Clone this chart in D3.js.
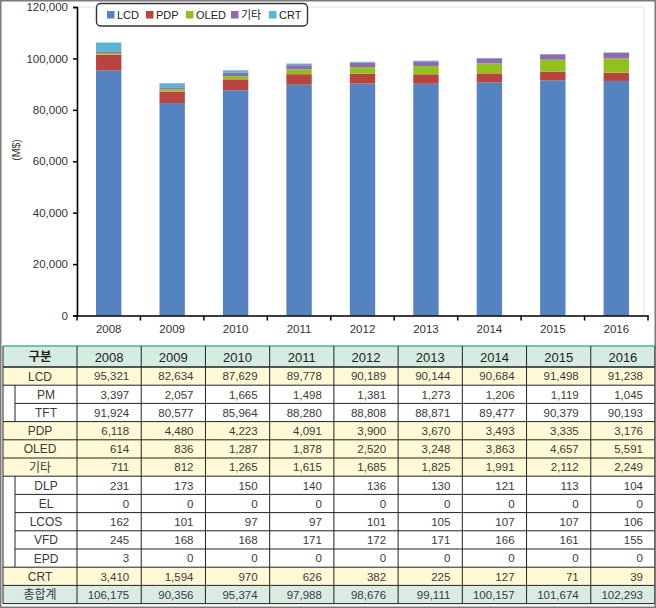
<!DOCTYPE html>
<html><head><meta charset="utf-8">
<script src="https://cdn.jsdelivr.net/npm/d3@7"></script>
<style>
html,body{margin:0;padding:0;background:#fff;}
svg{display:block;}
text{font-family:"Liberation Sans",Arial,"Noto Sans CJK KR",sans-serif;}
</style></head>
<body>
<svg id="c" width="656" height="608"></svg>
<script>
const years = [2008,2009,2010,2011,2012,2013,2014,2015,2016];
const seriesNames = ["LCD","PDP","OLED","기타","CRT"];
const seriesColors = ["#5582C0","#B8433F","#92C01F","#8F6BAF","#58B5D3"];
const LCD  = [95321,82634,87629,89778,90189,90144,90684,91498,91238];
const PM   = [3397,2057,1665,1498,1381,1273,1206,1119,1045];
const TFT  = [91924,80577,85964,88280,88808,88871,89477,90379,90193];
const PDP  = [6118,4480,4223,4091,3900,3670,3493,3335,3176];
const OLED = [614,836,1287,1878,2520,3248,3863,4657,5591];
const ETC  = [711,812,1265,1615,1685,1825,1991,2112,2249];
const DLP  = [231,173,150,140,136,130,121,113,104];
const EL   = [0,0,0,0,0,0,0,0,0];
const LCOS = [162,101,97,97,101,105,107,107,106];
const VFD  = [245,168,168,171,172,171,166,161,155];
const EPD  = [3,0,0,0,0,0,0,0,0];
const CRT  = [3410,1594,970,626,382,225,127,71,39];
const TOTAL= [106175,90356,95374,97988,98676,99111,100157,101674,102293];
const yTicks = [0,20000,40000,60000,80000,100000,120000];
const yLabel = "(M$)";
const tableHeaderLabel = "구분";
const tableRows = [
  {label:"LCD", values:LCD, kind:"main"},
  {label:"PM", values:PM, kind:"sub"},
  {label:"TFT", values:TFT, kind:"sub"},
  {label:"PDP", values:PDP, kind:"main"},
  {label:"OLED", values:OLED, kind:"main"},
  {label:"기타", values:ETC, kind:"main"},
  {label:"DLP", values:DLP, kind:"sub"},
  {label:"EL", values:EL, kind:"sub"},
  {label:"LCOS", values:LCOS, kind:"sub"},
  {label:"VFD", values:VFD, kind:"sub"},
  {label:"EPD", values:EPD, kind:"sub"},
  {label:"CRT", values:CRT, kind:"main"},
  {label:"총합계", values:TOTAL, kind:"total"}
];

const svg = d3.select("#c");
const fmt = d3.format(",");

// ---------- chart ----------
const X0 = 77, X1 = 648, YT = 7, YB = 315.5;
const x = d3.scaleBand().domain(years).range([X0, X1]).paddingInner(0.6).paddingOuter(0.3);
const y = d3.scaleLinear().domain([0,120000]).range([YB, YT]);

// plot frame (light)
svg.append("rect").attr("x",X0).attr("y",YT).attr("width",644-X0).attr("height",YB-YT)
  .attr("fill","none").attr("stroke","#e4e4e4").attr("stroke-width",1);

const seriesData = [LCD,PDP,OLED,ETC,CRT];
const rows = years.map((yr,i)=>{const o={year:yr}; seriesNames.forEach((s,k)=>o[s]=seriesData[k][i]); return o;});
const stacked = d3.stack().keys(seriesNames)(rows);
const color = d3.scaleOrdinal().domain(seriesNames).range(seriesColors);

svg.append("g").selectAll("g").data(stacked).join("g")
  .attr("fill",d=>color(d.key))
  .selectAll("rect").data(d=>d).join("rect")
  .attr("x",d=>x(d.data.year)).attr("width",x.bandwidth())
  .attr("y",d=>y(d[1])).attr("height",d=>y(d[0])-y(d[1]));

// y axis
const yAxis = svg.append("g").attr("transform",`translate(${X0},0)`)
  .call(d3.axisLeft(y).tickValues(yTicks).tickFormat(fmt).tickSize(4).tickPadding(5));
yAxis.select(".domain").attr("stroke","#000").attr("stroke-width",1.6);
yAxis.selectAll(".tick line").attr("stroke","#000").attr("stroke-width",1.5);
yAxis.selectAll(".tick text").attr("fill","#333").style("font-size","11.5px");

// x axis
const xAxis = svg.append("g").attr("transform",`translate(0,${YB})`)
  .call(d3.axisBottom(x).tickSize(0).tickPadding(9));
xAxis.select(".domain").attr("stroke","#000").attr("stroke-width",1.6);
xAxis.selectAll(".tick text").attr("fill","#333").style("font-size","11.5px");
const bounds = d3.range(years.length+1).map(i=>x.range()[0] + i*x.step());
xAxis.selectAll(".bt").data(bounds).join("line").attr("class","bt")
  .attr("x1",d=>d).attr("x2",d=>d).attr("y1",0).attr("y2",5)
  .attr("stroke","#000").attr("stroke-width",1.5);

// y label
svg.append("text").attr("transform","translate(20,150) rotate(-90)")
  .attr("text-anchor","middle").attr("fill","#333").style("font-size","10.5px").text(yLabel);

// legend
const lg = svg.append("g");
lg.append("rect").attr("x",96.5).attr("y",3.5).attr("width",211).attr("height",22.5).attr("rx",4)
  .attr("fill","#fff").attr("stroke","#333").attr("stroke-width",1.4);
const legX = [107,146,186,231,269];
seriesNames.forEach((s,i)=>{
  lg.append("rect").attr("x",legX[i]).attr("y",11).attr("width",7.5).attr("height",7.5).attr("fill",color(s));
  lg.append("text").attr("x",legX[i]+10).attr("y",18.5).attr("fill","#222").style("font-size","11px").text(s);
});

// ---------- table ----------
const TL = 3, C1 = 77, TR = 655, TT = 346, HH = 21, RH = 18.2;
const colW = (TR - C1) / years.length;
const tb = svg.append("g");
// header
tb.append("rect").attr("x",TL).attr("y",TT).attr("width",TR-TL).attr("height",HH).attr("fill","#D5ECE2");
tableRows.forEach((r,i)=>{
  const ry = TT + HH + i*RH;
  const fill = r.kind==="main" ? "#FFFAD5" : (r.kind==="total" ? "#D8ECE4" : "#fff");
  tb.append("rect").attr("x",TL).attr("y",ry).attr("width",TR-TL).attr("height",RH).attr("fill",fill);
});
// horizontal lines
tb.append("line").attr("x1",TL).attr("x2",TR).attr("y1",TT).attr("y2",TT).attr("stroke","#49B595").attr("stroke-width",1.5);
tb.append("line").attr("x1",TL).attr("x2",TR).attr("y1",TT+HH).attr("y2",TT+HH).attr("stroke","#222").attr("stroke-width",1.3);
tableRows.forEach((r,i)=>{
  const yb = TT + HH + (i+1)*RH;
  const next = tableRows[i+1];
  const xs = (r.kind==="sub" && next && next.kind==="sub") ? 15 : TL;
  tb.append("line").attr("x1",xs).attr("x2",TR).attr("y1",yb).attr("y2",yb).attr("stroke","#222").attr("stroke-width",1);
});
// vertical lines
const vx = [C1].concat(years.map((_,j)=>C1+(j+1)*colW));
vx.forEach((vv,j)=>{
  tb.append("line").attr("x1",vv).attr("x2",vv).attr("y1",TT).attr("y2",TT+HH+tableRows.length*RH)
    .attr("stroke","#222").attr("stroke-width",j===vx.length-1?1.5:1);
});
tb.append("line").attr("x1",TL).attr("x2",TL).attr("y1",TT).attr("y2",TT+HH+tableRows.length*RH).attr("stroke","#222").attr("stroke-width",1);
// sub-row indent lines
tableRows.forEach((r,i)=>{
  if(r.kind==="sub"){
    const ry = TT + HH + i*RH;
    tb.append("line").attr("x1",15).attr("x2",15).attr("y1",ry).attr("y2",ry+RH).attr("stroke","#222").attr("stroke-width",1);
  }
});
// header text
tb.append("text").attr("x",(TL+C1)/2).attr("y",TT+15).attr("text-anchor","middle")
  .attr("fill","#222").style("font-size","12.5px").style("font-weight","bold").text(tableHeaderLabel);
years.forEach((yr,j)=>{
  tb.append("text").attr("x",C1+(j+0.5)*colW).attr("y",TT+15.5).attr("text-anchor","middle")
    .attr("fill","#222").style("font-size","13px").text(yr);
});
// row text
tableRows.forEach((r,i)=>{
  const ry = TT + HH + i*RH;
  const lx = r.kind==="sub" ? (15+C1)/2 : (TL+C1)/2;
  tb.append("text").attr("x",lx).attr("y",ry+13.5).attr("text-anchor","middle")
    .attr("fill","#3a3a3a").style("font-size","12px").text(r.label);
  r.values.forEach((v,j)=>{
    tb.append("text").attr("x",C1+(j+1)*colW-12).attr("y",ry+13.3).attr("text-anchor","end")
      .attr("fill","#3a3a3a").style("font-size","11.5px").text(fmt(v));
  });
});

// outer border
svg.append("rect").attr("x",0.75).attr("y",0.75).attr("width",654.5).attr("height",606.5)
  .attr("fill","none").attr("stroke","#7a7a7a").attr("stroke-width",1.5);
</script>
</body></html>
